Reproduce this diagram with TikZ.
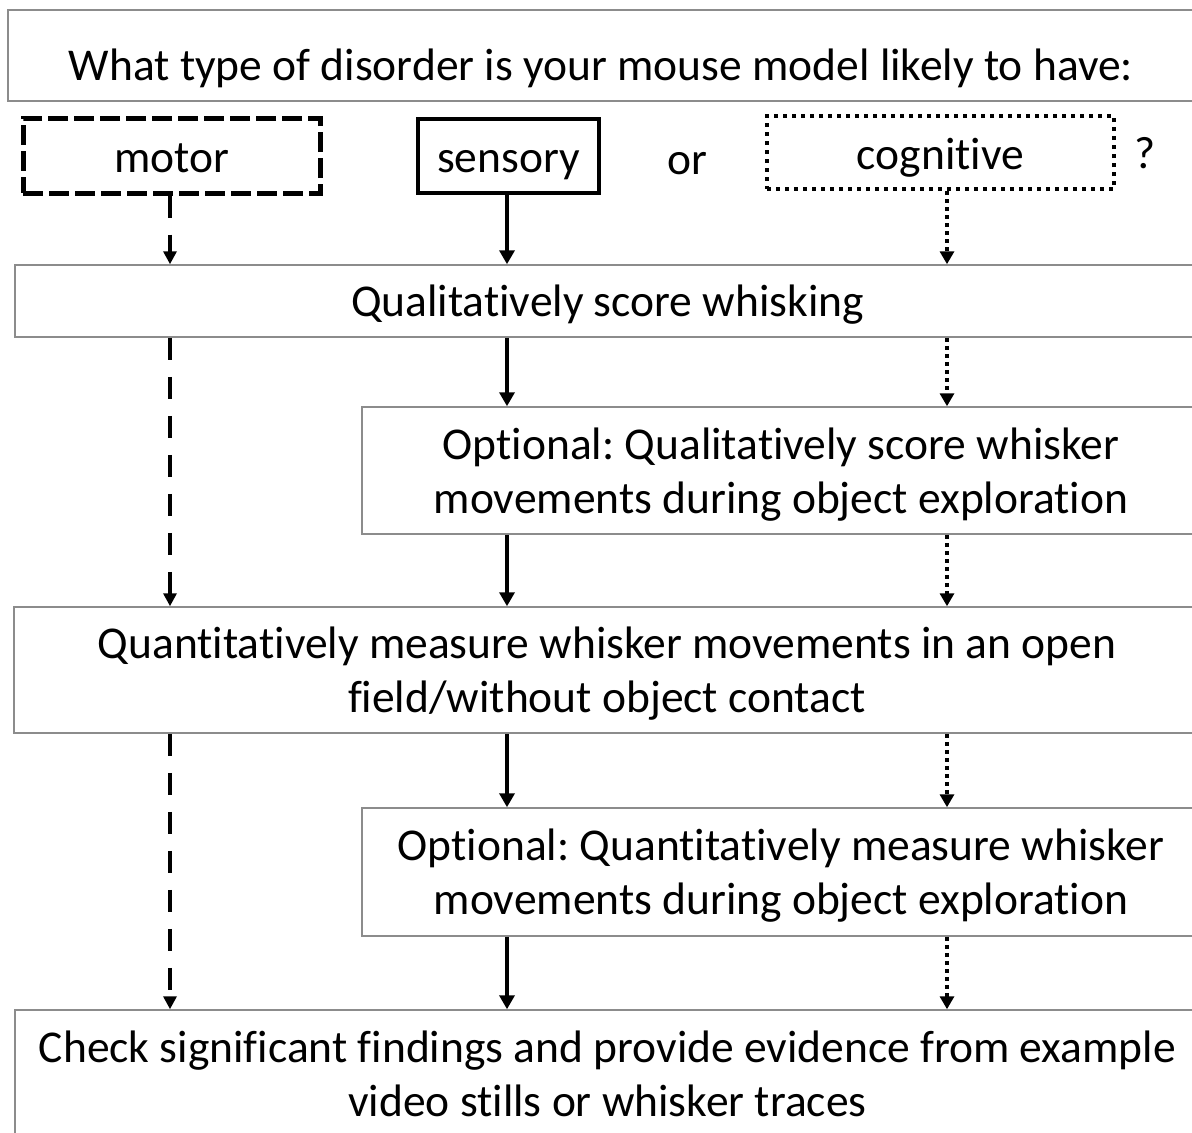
\documentclass[tikz,border=0pt]{standalone}
\usepackage{fontspec}
\setmainfont{Carlito}[Ligatures=NoCommon]
\frenchspacing
\usetikzlibrary{arrows.meta}
\definecolor{boxgray}{RGB}{140,140,140}
\tikzset{
  gbox/.style={draw=boxgray, line width=1.5pt, rectangle, inner sep=0pt},
  btext/.style={inner sep=0pt, align=center, font=\fontsize{45.5}{54}\selectfont},
  tbox/.style={rectangle, inner sep=0pt, font=\fontsize{45.5}{55}\selectfont, text height=40pt, text depth=7pt},
  plaintext/.style={inner sep=0pt, anchor=base, font=\fontsize{45.5}{55}\selectfont},
  solidarr/.style={line width=4pt, -{Triangle[width=15pt,length=14pt]}},
  dasharr/.style={line width=4pt, dash pattern=on 22pt off 17pt, -{Triangle[width=13pt,length=13pt]}},
  dotarr/.style={line width=4.5pt, dash pattern=on 4pt off 4pt, -{Triangle[width=14pt,length=13pt]}}
}
\begin{document}
\begin{tikzpicture}[x=1pt,y=-1pt]
\useasboundingbox (0,0) rectangle (1192,1133);
\fill[white] (0,0) rectangle (1192,1133);
% top question
\node[gbox, minimum width=1186pt, minimum height=91pt] (q) at (601,55.5) {};
\node[plaintext] (qt) at (601,80) {What type of disorder is your mouse model likely to have:};
% categories
\node[tbox, draw, line width=5pt, dash pattern=on 20pt off 6pt, minimum width=297pt, minimum height=75pt] (motor) at (171.5,155.5) {motor};
\node[tbox, draw, line width=4.5pt, minimum width=181pt, minimum height=74pt] (sens) at (508.5,156) {sensory};
\node[plaintext] (or) at (687,174) {or};
\node[tbox, draw, line width=4.5pt, dash pattern=on 4pt off 5pt, minimum width=347pt, minimum height=73pt] (cog) at (940.5,152.5) {cognitive};
\node[plaintext] (qm) at (1145,168) {?};
% steps
\node[gbox, minimum width=1185pt, minimum height=72pt] (b2) at (607.5,301) {};
\node[btext] (b2t) at ([yshift=-4pt]b2.center) {Qualitatively score whisking};
\node[gbox, minimum width=838pt, minimum height=127pt] (b3) at (781,470.5) {};
\node[btext] (b3t) at ([yshift=-4pt]b3.center) {Optional: Qualitatively score whisker\\movements during object exploration};
\node[gbox, minimum width=1186pt, minimum height=126pt] (b4) at (607,670) {};
\node[btext] (b4t) at ([yshift=-4pt]b4.center) {Quantitatively measure whisker movements in an open\\field/without object contact};
\node[gbox, minimum width=838pt, minimum height=128pt] (b5) at (781,872) {};
\node[btext] (b5t) at ([yshift=-4pt]b5.center) {Optional: Quantitatively measure whisker\\movements during object exploration};
\node[gbox, minimum width=1185pt, minimum height=128pt] (b6) at (607.5,1074) {};
\node[btext] (b6t) at (b6.center) {Check significant findings and provide evidence from example\\video stills or whisker traces};
% columns
\coordinate (cm) at (170,0);
\coordinate (cs) at (507,0);
\coordinate (cc) at (947,0);
% motor path
\draw[dasharr] (motor.south -| cm) -- (b2.north -| cm);
\draw[dasharr] (b2.south -| cm) -- (b4.north -| cm);
\draw[dasharr] (b4.south -| cm) -- (b6.north -| cm);
% sensory path
\draw[solidarr] (sens.south -| cs) -- (b2.north -| cs);
\draw[solidarr] (b2.south -| cs) -- (b3.north -| cs);
\draw[solidarr] (b3.south -| cs) -- (b4.north -| cs);
\draw[solidarr] (b4.south -| cs) -- (b5.north -| cs);
\draw[solidarr] (b5.south -| cs) -- (b6.north -| cs);
% cognitive path
\draw[dotarr] (cog.south -| cc) -- (b2.north -| cc);
\draw[dotarr] (b2.south -| cc) -- (b3.north -| cc);
\draw[dotarr] (b3.south -| cc) -- (b4.north -| cc);
\draw[dotarr] (b4.south -| cc) -- (b5.north -| cc);
\draw[dotarr] (b5.south -| cc) -- (b6.north -| cc);
\end{tikzpicture}
\end{document}
